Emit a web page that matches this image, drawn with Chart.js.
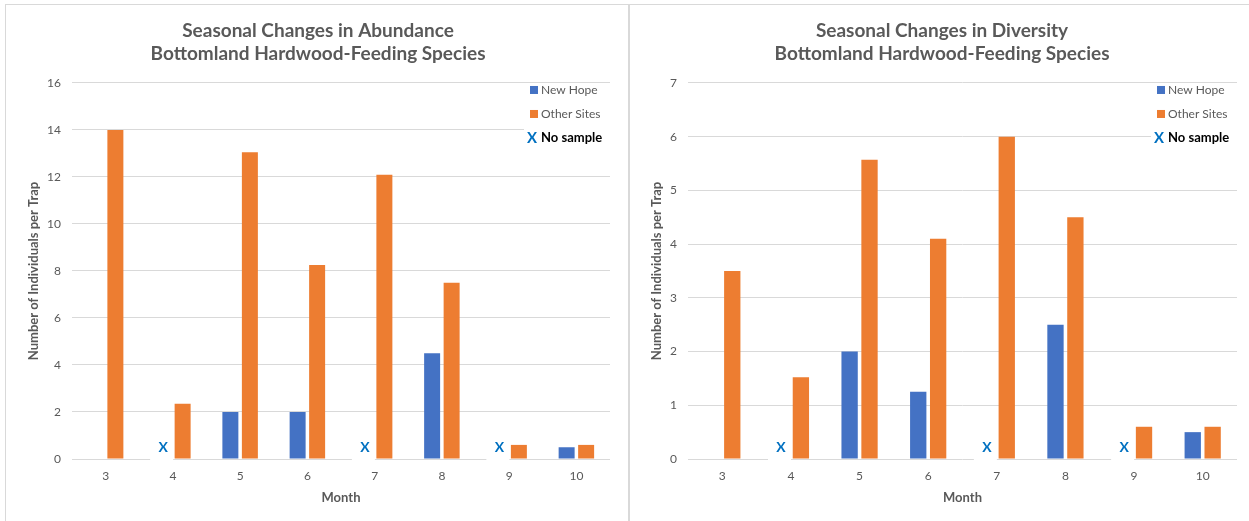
<!DOCTYPE html>
<html><head><meta charset="utf-8">
<script src="https://cdn.jsdelivr.net/npm/chart.js@4.4.1/dist/chart.umd.min.js"></script>
<style>
html,body{margin:0;padding:0;background:#fff;width:1249px;height:521px;overflow:hidden}
.panel{position:absolute;top:4px;height:530px;border:1px solid #d9d9d9;background:#fff}
#p1{left:5px;width:622px}
#p2{left:629px;width:624px}
canvas{display:block}
</style></head><body>
<div class="panel" id="p1"><canvas id="c1" width="622" height="517"></canvas></div>
<div class="panel" id="p2"><canvas id="c2" width="624" height="517"></canvas></div>
<script>
const months = ['3','4','5','6','7','8','9','10'];
const abundanceNewHope = [0, null, 2, 2, null, 4.5, null, 0.5];
const abundanceOther = [14, 2.35, 13.05, 8.25, 12.1, 7.5, 0.6, 0.6];
const diversityNewHope = [0, null, 2, 1.25, null, 2.5, null, 0.5];
const diversityOther = [3.5, 1.52, 5.57, 4.1, 6.0, 4.5, 0.6, 0.6];
const noSampleMonths = ['4','7','9'];
const seriesNames = ['New Hope','Other Sites'];
const BLUE = '#4472C4', ORANGE = '#ED7D31', XBLUE = '#0070C0', GRAY = '#595959';
const FONT = 'Lato, "Open Sans", sans-serif';

const overlay = {
  id: 'overlay',
  afterDraw(chart) {
    const ctx = chart.ctx, ca = chart.chartArea;
    const meta = chart.getDatasetMeta(0);
    const xs = chart.scales.x;
    const n = months.length;
    const slot = (xs.width / n) * 0.58 / 2;
    ctx.save();
    noSampleMonths.forEach(m => {
      const i = months.indexOf(m);
      let x = meta.data[i] && isFinite(meta.data[i].x) ? meta.data[i].x : xs.getPixelForValue(i) - slot / 2;
      const y = chart.scales.y.getPixelForValue(0) - 12;
      ctx.fillStyle = '#fff';
      ctx.fillRect(x - 13, y - 10, 23, 25);
      ctx.fillStyle = XBLUE;
      ctx.font = 'bold 14px ' + FONT;
      ctx.textAlign = 'center';
      ctx.textBaseline = 'middle';
      ctx.fillText('X', x, y);
    });
    const lx = ca.right - 80, ly = ca.top + 7;
    ctx.fillStyle = '#fff';
    ctx.fillRect(lx - 6, ly - 2, 86, 66);
    const cols = [BLUE, ORANGE];
    ctx.textAlign = 'left';
    ctx.textBaseline = 'middle';
    for (let k = 0; k < 2; k++) {
      const yy = ly + k * 24;
      ctx.fillStyle = cols[k];
      ctx.fillRect(lx, yy - 4, 8, 8);
      ctx.fillStyle = GRAY;
      ctx.font = '12px ' + FONT;
      ctx.fillText(chart.data.datasets[k].label, lx + 11, yy);
    }
    const y3 = ly + 48;
    ctx.fillStyle = XBLUE;
    ctx.font = 'bold 15px ' + FONT;
    ctx.fillText('X', lx - 3, y3);
    ctx.fillStyle = '#000';
    ctx.font = 'bold 13px ' + FONT;
    ctx.fillText('No sample', lx + 11, y3);
    ctx.restore();
  }
};

function makeChart(id, title, nh, other, yMax, yStep, padLeft, yWidth, yTitlePad, padRight) {
  return new Chart(document.getElementById(id), {
    type: 'bar',
    data: {
      labels: months,
      datasets: [
        { label: seriesNames[0], data: nh, backgroundColor: BLUE, borderWidth: 0 },
        { label: seriesNames[1], data: other, backgroundColor: ORANGE, borderWidth: 0 }
      ]
    },
    options: {
      responsive: false,
      animation: false,
      devicePixelRatio: 1,
      categoryPercentage: 0.58,
      barPercentage: 0.82,
      layout: { padding: { left: padLeft, right: padRight, top: 0, bottom: 16 } },
      plugins: {
        legend: { display: false },
        tooltip: { enabled: false },
        title: {
          display: true,
          text: title,
          color: GRAY,
          font: { family: FONT, size: 19, weight: 'bold', lineHeight: 1.21 },
          padding: { top: 14, bottom: 18 }
        }
      },
      scales: {
        x: {
          grid: { display: false },
          border: { display: false },
          ticks: { color: GRAY, font: { family: FONT, size: 12 }, padding: 2 },
          title: { display: true, text: 'Month', color: GRAY, font: { family: FONT, size: 13, weight: 'bold' }, padding: { top: 5, bottom: 0 } }
        },
        y: {
          min: 0, max: yMax,
          afterFit(s) { s.width = yWidth; },
          grid: { color: '#d9d9d9', drawTicks: false },
          border: { display: false },
          ticks: { stepSize: yStep, color: GRAY, font: { family: FONT, size: 12 }, padding: 11 },
          title: { display: true, text: 'Number of Individuals per Trap', color: GRAY, font: { family: FONT, size: 13, weight: 'bold' }, padding: { top: yTitlePad, bottom: 0 } }
        }
      }
    },
    plugins: [overlay]
  });
}

makeChart('c1', ['Seasonal Changes in Abundance', 'Bottomland Hardwood-Feeding Species'], abundanceNewHope, abundanceOther, 16, 2, 20, 46, 0.5, 18);
makeChart('c2', ['Seasonal Changes in Diversity', 'Bottomland Hardwood-Feeding Species'], diversityNewHope, diversityOther, 7, 1, 17, 41, 2, 17);
</script>
</body></html>
